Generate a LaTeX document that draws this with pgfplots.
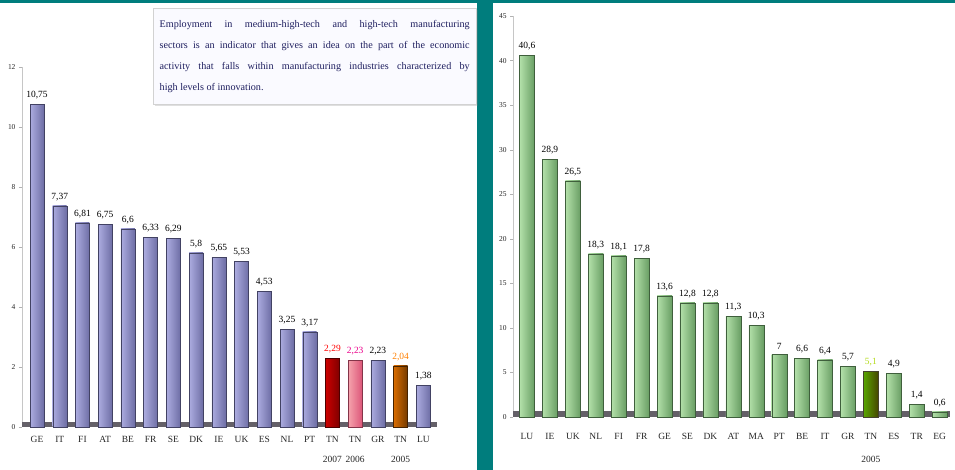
\documentclass[border=0pt]{standalone}
\usepackage{pgfplots}
\pgfplotsset{compat=1.18}
\usepackage{fontspec}
\setmainfont{Liberation Serif}
\usetikzlibrary{shadows}
\definecolor{tealc}{RGB}{0,125,125}
\definecolor{navyc}{RGB}{30,30,95}
\definecolor{lavlight}{RGB}{212,212,246}
\definecolor{lavmid}{RGB}{172,172,224}
\definecolor{lavdark}{RGB}{110,110,165}
\definecolor{grnlight}{RGB}{222,245,212}
\definecolor{grnmid}{RGB}{180,225,170}
\definecolor{grndark}{RGB}{105,158,100}
\definecolor{floorc}{RGB}{100,96,104}
\pgfplotsset{
  panel/.style={
    scale only axis, anchor=south west, clip=false,
    axis x line*=bottom, axis y line*=left,
    x axis line style={draw=none},
    y axis line style={-, draw=gray!45},
    xtick style={draw=none},
    ytick style={draw=gray!60},
    tick align=outside, major tick length=3bp,
    xtick={0,...,18},
    xticklabel style={font=\fontsize{9.5}{11}\selectfont, align=center, text=black!85, yshift=-2bp},
    yticklabel style={font=\fontsize{7.5}{8}\selectfont, text=black!85},
    /pgf/number format/assume math mode=true,
  },
  mybar/.style n args={4}{
    ybar, bar shift=0pt, draw=#3!60!black, line width=0.3bp,
    left color=#2, middle color=#1, right color=#3,
    nodes near coords, point meta=explicit symbolic,
    every node near coord/.append style={font=\fontsize{9.5}{10}\selectfont, text=#4, inner sep=1bp, yshift=4bp},
  },
}
\newcommand{\lb}[3]{\addplot[mybar={lavlight}{lavmid}{lavdark}{black}, bar width=14bp] coordinates {(#1,#2) [#3]};}
\newcommand{\rb}[3]{\addplot[mybar={grnlight}{grnmid}{grndark}{black}, bar width=15bp] coordinates {(#1,#2) [#3]};}
\begin{document}
\begin{tikzpicture}
\useasboundingbox (0bp,0bp) rectangle (955bp,470bp);
\fill[white] (0bp,0bp) rectangle (955bp,470bp);
\fill[tealc] (0bp,467bp) rectangle (955bp,470bp);
\fill[tealc] (477bp,0bp) rectangle (493bp,470bp);

% ---------- left panel ----------
\begin{axis}[panel, at={(22bp,43bp)}, width=415bp, height=360bp,
  xmin=-0.66, xmax=17.6, ymin=0, ymax=12, ytick={0,2,...,12},
  xticklabel style={yshift=-1bp},
  xticklabels={GE,IT,FI,AT,BE,FR,SE,DK,IE,UK,ES,NL,PT,{TN\\[9bp]2007},{TN\\[9bp]2006},GR,{TN\\[9bp]2005},LU}]
\addplot[draw=none, fill=floorc, forget plot] coordinates {(-0.66,0.18) (17.6,0.18)} \closedcycle;
\lb{0}{10.75}{10,75}
\lb{1}{7.37}{7,37}
\lb{2}{6.81}{6,81}
\lb{3}{6.75}{6,75}
\lb{4}{6.6}{6,6}
\lb{5}{6.33}{6,33}
\lb{6}{6.29}{6,29}
\lb{7}{5.8}{5,8}
\lb{8}{5.65}{5,65}
\lb{9}{5.53}{5,53}
\lb{10}{4.53}{4,53}
\lb{11}{3.25}{3,25}
\lb{12}{3.17}{3,17}
\addplot[mybar={red!95}{red!80!black}{red!50!black}{red}, bar width=14bp] coordinates {(13,2.29) [2,29]};
\addplot[mybar={pink!70}{pink!85!purple}{purple!55!pink}{magenta}, bar width=14bp] coordinates {(14,2.23) [2,23]};
\lb{15}{2.23}{2,23}
\addplot[mybar={orange!70!yellow}{orange!85!black}{orange!45!black}{orange}, bar width=14bp] coordinates {(16,2.04) [2,04]};
\lb{17}{1.38}{1,38}
\end{axis}

% ---------- right panel ----------
\begin{axis}[panel, at={(513bp,53bp)}, width=437bp, height=401bp,
  xmin=-0.61, xmax=18.45, ymin=0, ymax=45, ytick={0,5,...,45},
  xticklabel style={yshift=-8bp},
  xticklabels={LU,IE,UK,NL,FI,FR,GE,SE,DK,AT,MA,PT,BE,IT,GR,{TN\\[12bp]2005},ES,TR,EG}]
\addplot[draw=none, fill=floorc, forget plot] coordinates {(-0.61,0.65) (18.45,0.65)} \closedcycle;
\rb{0}{40.6}{40,6}
\rb{1}{28.9}{28,9}
\rb{2}{26.5}{26,5}
\rb{3}{18.3}{18,3}
\rb{4}{18.1}{18,1}
\rb{5}{17.8}{17,8}
\rb{6}{13.6}{13,6}
\rb{7}{12.8}{12,8}
\rb{8}{12.8}{12,8}
\rb{9}{11.3}{11,3}
\rb{10}{10.3}{10,3}
\rb{11}{7}{7}
\rb{12}{6.6}{6,6}
\rb{13}{6.4}{6,4}
\rb{14}{5.7}{5,7}
\addplot[mybar={yellow!60!green}{olive!70!green}{olive!55!black}{yellow!70!green}, bar width=15bp] coordinates {(15,5.1) [5,1]};
\rb{16}{4.9}{4,9}
\rb{17}{1.4}{1,4}
\rb{18}{0.6}{0,6}
\end{axis}

% ---------- text box ----------
\node[anchor=north west, draw=gray!35, fill=blue!2,
  drop shadow={opacity=0.25, shadow xshift=2bp, shadow yshift=-2bp},
  minimum width=323bp, minimum height=96bp, inner xsep=6.5bp, inner ysep=6bp,
  text width=310bp, align=justify, font=\fontsize{10.2}{21}\selectfont, text=navyc]
  at (153bp,462bp) {Employment in medium-high-tech and high-tech manufacturing\linebreak
  sectors is an indicator that gives an idea on the part of the economic\linebreak
  activity that falls within manufacturing industries characterized by\linebreak
  high levels of innovation.};
\end{tikzpicture}
\end{document}
